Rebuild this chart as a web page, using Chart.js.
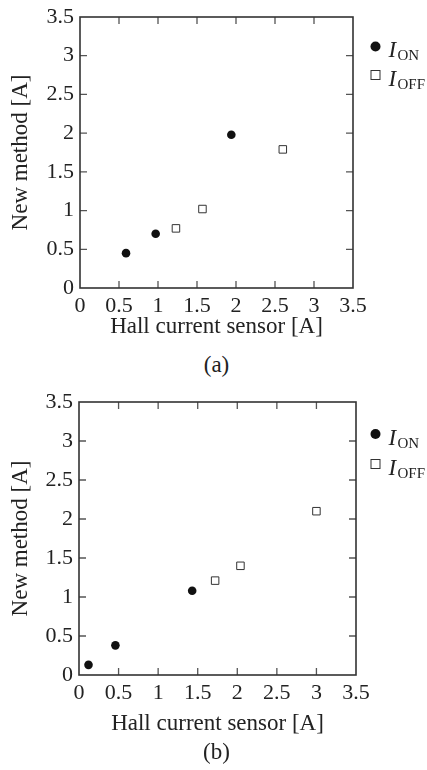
<!DOCTYPE html>
<html lang="en">
<head>
    <meta charset="UTF-8">
    <script src="https://cdn.jsdelivr.net/npm/chart.js"></script>
    <title>Hall sensor vs new method</title>
    <style>
        body { margin: 0; background: #fff; }
        .box { position: absolute; left: 0; width: 427px; }
        .cap { position: absolute; left: 0; width: 433px; text-align: center;
               font: 23px "Liberation Serif", serif; color: #222; }
    </style>
</head>
<body>
    <div class="box" style="top:0px;height:345px"><canvas id="chartA" width="427" height="345"></canvas></div>
    <div class="cap" style="top:352px">(a)</div>
    <div class="box" style="top:385px;height:355px"><canvas id="chartB" width="427" height="355"></canvas></div>
    <div class="cap" style="top:739px">(b)</div>
    <script>
        // (a) values
        let hallOnA = [0.59, 0.97, 1.94];
        let newOnA = [0.45, 0.70, 1.98];
        let hallOffA = [1.23, 1.57, 2.60];
        let newOffA = [0.77, 1.02, 1.79];

        // (b)
        let hallOnB = [0.12, 0.46, 1.43];
        let newOnB = [0.13, 0.38, 1.08];
        let hallOffB = [1.72, 2.04, 3.00];
        let newOffB = [1.21, 1.40, 2.10];

        let seriesNames = ['ON', 'OFF'];
        let tickLabels = ['0', '0.5', '1', '1.5', '2', '2.5', '3', '3.5'];
        let axisMax = 3.5;
        let axisStep = 0.5;

        const ink = '#222';
        const serif = 'Liberation Serif';

        function pts(xs, ys) {
            return xs.map((x, i) => ({ x: x, y: ys[i] }));
        }

        // frame + inward ticks on all four sides
        const framePlugin = {
            id: 'frame',
            afterDatasetsDraw(chart) {
                const ctx = chart.ctx;
                const a = chart.chartArea;
                const xs = chart.scales.x, ys = chart.scales.y;
                const len = 7;
                ctx.save();
                ctx.strokeStyle = '#555';
                ctx.lineWidth = 1.3;
                ctx.beginPath();
                xs.ticks.forEach(t => {
                    if (t.value <= 0 || t.value >= axisMax) return;
                    const px = xs.getPixelForValue(t.value);
                    ctx.moveTo(px, a.bottom); ctx.lineTo(px, a.bottom - len);
                    ctx.moveTo(px, a.top); ctx.lineTo(px, a.top + len);
                });
                ys.ticks.forEach(t => {
                    if (t.value <= 0 || t.value >= axisMax) return;
                    const py = ys.getPixelForValue(t.value);
                    ctx.moveTo(a.left, py); ctx.lineTo(a.left + len, py);
                    ctx.moveTo(a.right, py); ctx.lineTo(a.right - len, py);
                });
                ctx.stroke();
                ctx.strokeStyle = '#333';
                ctx.lineWidth = 1.6;
                ctx.strokeRect(a.left, a.top, a.right - a.left, a.bottom - a.top);
                ctx.restore();
            }
        };

        // legend with italic I and subscript
        const legendPlugin = {
            id: 'subLegend',
            afterDraw(chart, args, opts) {
                const ctx = chart.ctx;
                const a = chart.chartArea;
                const x0 = a.right + opts.dx;
                ctx.save();
                seriesNames.forEach((name, i) => {
                    const y0 = a.top + opts.dy[i];
                    if (i === 0) {
                        ctx.fillStyle = '#111';
                        ctx.beginPath();
                        ctx.arc(x0, y0, 5, 0, Math.PI * 2);
                        ctx.fill();
                    } else {
                        ctx.strokeStyle = '#333';
                        ctx.lineWidth = 1;
                        ctx.fillStyle = '#fff';
                        ctx.fillRect(x0 - 4.5, y0 - 4.5, 9, 9);
                        ctx.strokeRect(x0 - 4.5, y0 - 4.5, 9, 9);
                    }
                    ctx.fillStyle = ink;
                    ctx.textBaseline = 'alphabetic';
                    ctx.textAlign = 'left';
                    ctx.font = 'italic 23px "' + serif + '"';
                    ctx.fillText('I', x0 + 13, y0 + 10.5);
                    ctx.font = '15px "' + serif + '"';
                    ctx.fillText(name, x0 + 22, y0 + 13.5);
                });
                ctx.restore();
            }
        };

        function makeChart(id, on, off, pad, legendPos) {
            const ctx = document.getElementById(id);
            return new Chart(ctx, {
                type: 'scatter',
                data: {
                    datasets: [{
                        label: 'I_ON',
                        data: on,
                        pointStyle: 'circle',
                        pointRadius: 4.3,
                        backgroundColor: '#111',
                        borderColor: '#111',
                        borderWidth: 0
                    }, {
                        label: 'I_OFF',
                        data: off,
                        pointStyle: 'rect',
                        pointRadius: 5.3,
                        backgroundColor: '#fff',
                        borderColor: '#333',
                        borderWidth: 1
                    }]
                },
                options: {
                    responsive: false,
                    animation: false,
                    devicePixelRatio: 1,
                    layout: { padding: { left: 0, right: pad.right, top: pad.top, bottom: 0 } },
                    plugins: {
                        legend: { display: false },
                        tooltip: { enabled: false },
                        subLegend: legendPos
                    },
                    scales: {
                        x: {
                            type: 'linear',
                            min: 0,
                            max: axisMax,
                            grid: { display: false, drawTicks: false },
                            border: { display: false },
                            ticks: {
                                stepSize: axisStep,
                                padding: 7,
                                color: ink,
                                maxRotation: 0,
                                font: { family: serif, size: 22, lineHeight: 1 },
                                callback: (v, i) => tickLabels[i]
                            },
                            title: {
                                display: true,
                                text: 'Hall current sensor [A]',
                                color: ink,
                                padding: { top: 0, bottom: pad.titleBottom },
                                font: { family: serif, size: 23 }
                            },
                            afterFit(s) { s.height = pad.xHeight; }
                        },
                        y: {
                            type: 'linear',
                            min: 0,
                            max: axisMax,
                            grid: { display: false, drawTicks: false },
                            border: { display: false },
                            ticks: {
                                stepSize: axisStep,
                                padding: 6,
                                color: ink,
                                font: { family: serif, size: 22, lineHeight: 1 },
                                callback: (v, i) => tickLabels[i]
                            },
                            title: {
                                display: true,
                                text: 'New method [A]',
                                color: ink,
                                padding: { top: 7, bottom: 0 },
                                font: { family: serif, size: 23 }
                            },
                            afterFit(s) { s.width = pad.yWidth; }
                        }
                    }
                },
                plugins: [framePlugin, legendPlugin]
            });
        }

        makeChart('chartA', pts(hallOnA, newOnA), pts(hallOffA, newOffA),
            { right: 74, top: 15, xHeight: 57, yWidth: 80, titleBottom: 4 },
            { dx: 22.5, dy: [29.5, 58] });
        makeChart('chartB', pts(hallOnB, newOnB), pts(hallOffB, newOffB),
            { right: 71, top: 12, xHeight: 65, yWidth: 79, titleBottom: 2 },
            { dx: 19.5, dy: [32, 62] });
    </script>
</body>
</html>
